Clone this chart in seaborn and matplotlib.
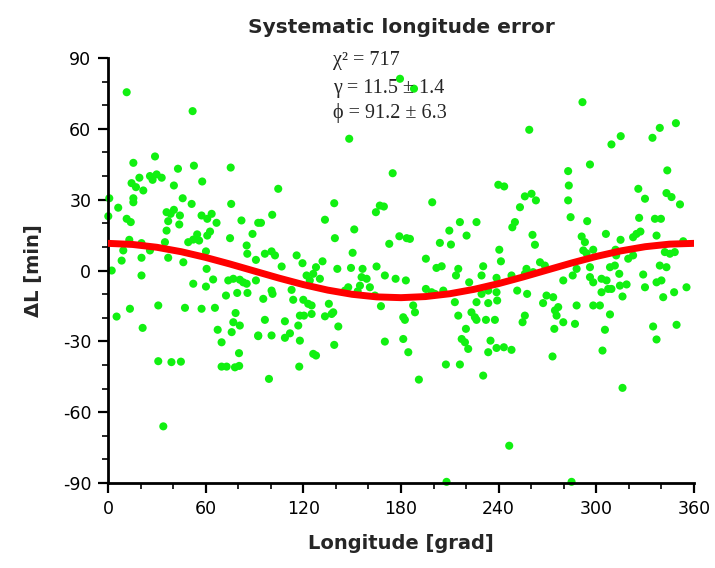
import matplotlib
matplotlib.use("Agg")
import matplotlib.pyplot as plt
import seaborn as sns
import pandas as pd
from matplotlib.ticker import MultipleLocator

# ---- data ----
longitude = [
    11.5, 52, 15.6, 28.9, 43, 52.8, 75.4, 57.9, 14.5, 17.2, 19.3, 21.7, 25.8, 29.9, 33, 27.4, 40.5,
    0.8, 15.6, 15.6, 45.9, 51.4, 75.7, 6.3, 0.2, 11.5, 14, 36, 38.5, 37, 40.5, 44.2, 43.8, 57.5, 61,
    63.7, 66.7, 82, 92.3, 36, 35, 49.3, 52.4, 56, 54.8, 62.7, 61, 75, 88.8, 85.2, 85.6, 13.1, 20.6,
    9.4, 25.8, 60.2, 37, 20.6, 8.4, 46.3, 90.9, 2.3, 60.6,
    20.6, 64.6, 52.4, 60.2, 73.9, 77, 81, 83.1, 85.2, 72.5, 79.4, 85.7, 90.9, 5.3, 13.5, 30.9, 47.3,
    57.5, 65.7, 78.4, 21.3, 67.4, 77, 81, 76, 69.8, 80.5, 92.3, 30.9, 39, 44.8, 69.8, 72.9, 78, 80.6, 34,
    179.4, 148.2, 174.9, 104.6, 139, 167, 169.5, 164.6, 100.9, 94, 133.3, 151.3, 139.4, 179, 183.5,
    172.8, 96.4, 100.5, 102.6, 115.9, 106.7, 119.5, 131.8, 127.8, 140.9, 149.3, 156.4, 165, 150.3,
    170.1, 176.7, 183, 100.5, 101.1, 95.4, 112.8, 122, 124, 126.1, 130.2, 155.8, 158.9, 154.8, 160.9,
    153.4, 147.6, 145.6, 113.8, 120, 123, 125.1, 135.7, 138.4, 164, 167.7, 117.9, 120.4, 125.1, 116.9,
    133.3, 137.4, 141.5, 96.4, 108.7, 92.3, 100.5, 108.7, 111.8, 117.9, 139, 170.1, 181.4, 182.4,
    181.4, 184.5, 126.1, 127.8, 117.5, 98.9,
    188, 258.8, 239.8, 243.4, 256.1, 260.2, 262.9, 199.2, 253.1, 216.2, 226.4, 209.7, 220.3, 250,
    248.4, 185.5, 203.9, 210.7, 260.8, 262.3, 240.4, 195.3, 241.4, 205, 201.8, 215.2, 230.5, 265.4,
    268.4, 257.1,
    213.8, 229.5, 238.7, 247.9, 256.1, 261.2, 195.3, 198.8, 200.9, 206, 221.9, 229.5, 233.6, 238.7,
    251.4, 257.5, 269.4, 273.5, 187.5, 188.6, 213.1, 226.4, 233.6, 239.1, 215.2, 223.3, 225.4, 226.4,
    232.2, 237.7, 256.1, 254.7, 267.3, 274.6, 275.6, 274.2, 219.9, 217.3, 219.3, 221.3, 235, 233.6,
    238.7, 243.2, 247.9, 207.6, 216.2, 230.5, 191, 273.1, 246.5, 208,
    291.5, 309.3, 315, 334.5, 339, 348.9, 282.7, 283.1, 282.7, 284.2, 296.1, 325.8, 329.9, 343.6,
    343.1, 346.2, 351.4, 294.4, 326.3, 336, 339.7, 305.9, 291, 293, 292, 294, 298.1, 314.9, 322.6,
    324.7, 327.1, 337, 353.4, 311.8, 312.2, 319.6, 322.6, 342.1, 345.2, 348.2, 339, 343.1, 296.1,
    308.4, 311.4, 287.9,
    279.7, 285.5, 296.1, 298.1, 303.2, 306.3, 307.3, 303.2, 309.3, 314.1, 314.5, 318.6, 316.1, 328.8,
    329.9, 337, 340, 341.1, 347.8, 355.4, 276.6, 279.7, 287.9, 286.9, 298.1, 302.2, 308.4, 305.3,
    334.9, 349.3, 337, 303.8, 316.1, 284.8,
]
delta_L = [
    75.5, 67.5, 45.6, 48.3, 43.1, 44.4, 43.6, 37.7, 37, 35.3, 39.3, 33.9, 40, 40.7, 39.3, 38.4, 36,
    30.6, 30.6, 28.9, 30.6, 28.2, 28.2, 26.6, 23, 21.9, 20.5, 24.7, 24, 20.9, 25.7, 23.3, 19.5, 23.3, 21.9,
    24, 20.2, 21.2, 20.2, 16.9, 12, 12, 13.1, 12.7, 15.3, 16.5, 14.8, 13.7, 15.5, 10.6, 7.1, 13, 11.6,
    8.5, 8.5, 8.1, 5.4, 5.4, 4.2, 3.5, 4.5, 0, 0.7,
    -2.1, -3.8, -5.6, -6.8, -4.2, -3.5, -3.9, -5, -5.6, -10.6, -9.5, -9.5, -4.2, -19.5, -16.2, -14.8, -15.8,
    -16.2, -15.8, -18, -24.3, -25.1, -21.9, -23.3, -26.1, -30.4, -35, -27.5, -38.4, -38.8, -38.6, -40.7, -40.7, -41, -40.4, -66,
    81.2, 55.8, 41.2, 34.6, 28.5, 27.5, 27.1, 24.7, 23.6, 20.2, 21.5, 17.4, 13.7, 14.5, 13.7,
    11.3, 7.1, 8.1, 6.4, 6.4, 1.7, 3.1, 3.9, 1.4, 0.7, 1.1, 0.7, 1.7, 7.5,
    -2.1, -3.5, -4.2, -8.5, -9.9, -12, -8.2, -2.1, -4.2, -1.4, -3.5, -2.8, -3.5, -6.4, -7.1,
    -8.8, -7.1, -8.5, -12.4, -12.4, -14.1, -14.8, -14.1, -17.7, -10.6, -15.1, -19.1, -19.1, -18.4, -23.3,
    -19.4, -18.4, -23.7, -20.9, -21.5, -27.8, -27.5, -28.5, -26.6, -29.7, -31.5, -30.1, -19.8, -20.9,
    -29, -34.6, -35.3, -36, -40.7, -45.9,
    77, 59.6, 36.3, 35.6, 31.4, 32.5, 29.7, 28.9, 26.8, 20.5, 20.5, 16.9, 14.8, 20.5,
    18.3, 13.4, 11.7, 11, 15.1, 10.9, 8.8, 5, 3.9, 1.8, 1.1, 0.7, 1.8, 3.5,
    2.1, 0.7,
    -2.1, -2.1, -3.1, -2.1, -1.4, -0.7, -7.8, -9.2, -9.9, -8.5, -5, -9.9, -8.5, -9.2,
    -8.5, -9.9, -10.6, -11.3, -14.8, -17.7, -13.4, -13.4, -13.8, -12.7, -19.1, -17.7, -19.8, -20.9,
    -20.9, -20.9, -19.1, -21.9, -13.8, -16.9, -19.1, -24.7, -24.7, -29, -30.4, -33.2, -29.7, -34.6,
    -32.8, -32.5, -33.6, -39.8, -39.8, -44.5, -46.2, -36.4, -74.2, -89.5,
    71.3, 53.4, 56.9, 56.2, 60.4, 62.4, 42.1, 36, 29.7, 22.6, 44.9, 34.6, 30.4, 42.4,
    32.8, 31.1, 28, 20.9, 22.3, 21.9, 21.9, 15.5, 14.4, 12, 8.5, 7.3, 8.8, 13, 14.1,
    15.5, 16.5, 14.8, 12.4, 8.8, 6.4, 5, 6.4, 7.8, 7.1, 7.8, 2.1, 1.4, 1.4,
    1.4, 2.1, 0.7,
    -4.2, -2.1, -2.8, -5, -3.5, -4.2, -7.8, -9.2, -7.8, -1.4, -6.4, -5.9, -11, -1.7,
    -7.1, -5, -4.2, -11.3, -9.2, -7.1, -15.5, -21.9, -14.8, -22.6, -14.8, -14.8, -18.6, -25.1,
    -23.7, -23, -29.2, -33.9, -49.7, -89.5,
]

# fitted sinusoid
fit_longitude = [0, 15, 30, 45, 60, 75, 90, 105, 120, 135, 150, 165, 180,
                 195, 210, 225, 240, 255, 270, 285, 300, 315, 330, 345, 360]
fit_delta_L = [11.5, 11.04, 9.84, 7.96, 5.54, 2.74, -0.24, -3.21, -5.96, -8.3, -10.08, -11.17, -11.5,
               -11.04, -9.84, -7.96, -5.54, -2.74, 0.24, 3.21, 5.96, 8.3, 10.08, 11.17, 11.5]

x_ticks = [0, 60, 120, 180, 240, 300, 360]
y_ticks = [-90, -60, -30, 0, 30, 60, 90]

title_text = "Systematic longitude error"
fit_lines = ["χ² = 717", "γ = 11.5 ± 1.4", "ϕ = 91.2 ± 6.3"]

df_pts = pd.DataFrame({"lon": longitude, "dL": delta_L})
df_fit = pd.DataFrame({"lon": fit_longitude, "fit": fit_delta_L})

sns.set_theme(style="white")
plt.rcParams["font.family"] = ["DejaVu Sans"]
plt.rcParams["axes.unicode_minus"] = False

fig = plt.figure(figsize=(7.15, 5.68), dpi=100)
ax = fig.add_axes([0.151, 0.1496, 0.8196, 0.7483])

sns.scatterplot(data=df_pts, x="lon", y="dL", ax=ax, color="#11f011", s=34,
                edgecolor="none", linewidth=0, clip_on=False, zorder=2)
sns.lineplot(data=df_fit, x="lon", y="fit", ax=ax, color="#ff0000", linewidth=5,
             zorder=3, sort=True)

ax.set_xlim(0, 360)
ax.set_ylim(-90, 90)
ax.set_xticks(x_ticks)
ax.set_yticks(y_ticks)
ax.xaxis.set_minor_locator(MultipleLocator(20))
ax.yaxis.set_minor_locator(MultipleLocator(10))
ax.tick_params(which="major", direction="out", length=7, width=1.6, labelsize=12.5,
               colors="black", bottom=True, left=True, pad=5)
ax.tick_params(which="minor", direction="out", length=4, width=1.4,
               bottom=True, left=True)
for s in ["top", "right"]:
    ax.spines[s].set_visible(False)
for s in ["left", "bottom"]:
    ax.spines[s].set_linewidth(2)
    ax.spines[s].set_color("black")

ax.set_xlabel("Longitude [grad]", fontsize=14, fontweight="bold", labelpad=12)
ax.set_ylabel("ΔL [min]", fontsize=14, fontweight="bold", labelpad=14)

fig.text(0.561, 0.951, title_text, ha="center", va="center", fontsize=14.5,
         fontweight="bold")
for txt, yy in zip(fit_lines, [0.894, 0.845, 0.801]):
    fig.text(0.466, yy, txt, ha="left", va="center", fontsize=14.5,
             family=["Liberation Serif", "DejaVu Serif"])

fig.savefig("out.png", dpi=100, facecolor="white")
